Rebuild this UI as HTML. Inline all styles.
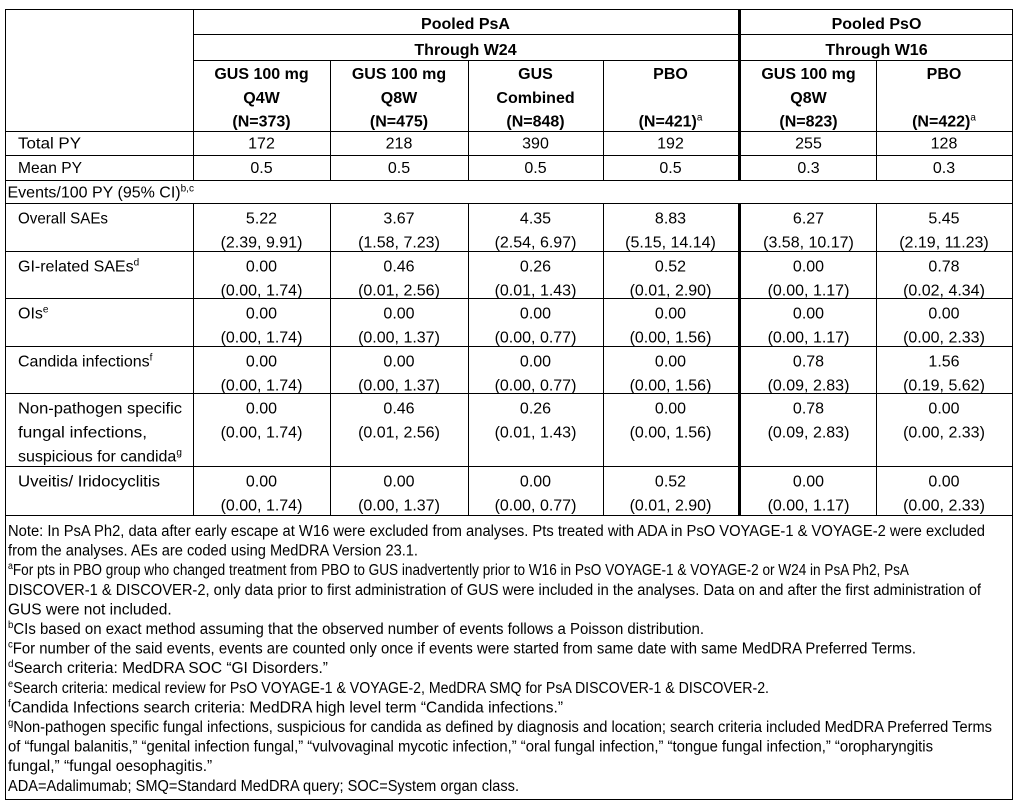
<!DOCTYPE html>
<html>
<head>
<meta charset="utf-8">
<style>
  html,body{margin:0;padding:0;background:#fff;}
  svg{display:block;}
  text{font-family:"Liberation Sans",Arial,sans-serif;fill:#000;}
  .h{font-weight:bold;font-size:16px;}
  .d{font-size:16px;}
  .f{font-size:15.5px;}
</style>
</head>
<body>
<svg width="1022" height="809" viewBox="0 0 1022 809" xmlns="http://www.w3.org/2000/svg">
  <rect x="0" y="0" width="1022" height="809" fill="#fff"/>
  <!-- horizontal lines -->
  <g fill="#000">
    <rect x="5" y="9" width="1008" height="1"/>
    <rect x="193" y="34" width="820" height="1"/>
    <rect x="193" y="60" width="820" height="1"/>
    <rect x="5" y="131" width="1008" height="1"/>
    <rect x="5" y="155" width="1008" height="1"/>
    <rect x="5" y="180" width="1008" height="1"/>
    <rect x="5" y="203" width="1008" height="1"/>
    <rect x="5" y="251" width="1008" height="1"/>
    <rect x="5" y="298" width="1008" height="1"/>
    <rect x="5" y="346" width="1008" height="1"/>
    <rect x="5" y="393" width="1008" height="1"/>
    <rect x="5" y="466" width="1008" height="1"/>
    <rect x="5" y="515" width="1008" height="1"/>
    <rect x="5" y="799" width="1008" height="1"/>
    <!-- vertical lines -->
    <rect x="5" y="9" width="1" height="791"/>
    <rect x="1012" y="9" width="1" height="791"/>
    <rect x="193" y="9" width="1" height="172"/>
    <rect x="193" y="203" width="1" height="313"/>
    <rect x="738" y="9" width="3" height="172"/>
    <rect x="738" y="203" width="3" height="313"/>
    <rect x="330" y="60" width="1" height="121"/>
    <rect x="330" y="203" width="1" height="313"/>
    <rect x="468" y="60" width="1" height="121"/>
    <rect x="468" y="203" width="1" height="313"/>
    <rect x="603" y="60" width="1" height="121"/>
    <rect x="603" y="203" width="1" height="313"/>
    <rect x="876" y="60" width="1" height="121"/>
    <rect x="876" y="203" width="1" height="313"/>
  </g>

  <!-- header -->
  <g class="h" text-anchor="middle">
    <text x="465.5" y="29">Pooled PsA</text>
    <text x="876.5" y="29">Pooled PsO</text>
    <text x="465.5" y="55">Through W24</text>
    <text x="876.5" y="55">Through W16</text>

    <text x="261.5" y="79">GUS 100 mg</text>
    <text x="261.5" y="103">Q4W</text>
    <text x="261.5" y="126.5">(N=373)</text>

    <text x="399" y="79">GUS 100 mg</text>
    <text x="399" y="103">Q8W</text>
    <text x="399" y="126.5">(N=475)</text>

    <text x="535.5" y="79">GUS</text>
    <text x="535.5" y="103">Combined</text>
    <text x="535.5" y="126.5">(N=848)</text>

    <text x="670.5" y="79">PBO</text>
    <text x="670.5" y="126.5">(N=421)<tspan font-size="10" font-weight="normal" dy="-6">a</tspan></text>

    <text x="808.5" y="79">GUS 100 mg</text>
    <text x="808.5" y="103">Q8W</text>
    <text x="808.5" y="126.5">(N=823)</text>

    <text x="944" y="79">PBO</text>
    <text x="944" y="126.5">(N=422)<tspan font-size="10" font-weight="normal" dy="-6">a</tspan></text>
  </g>

  <!-- left labels -->
  <g class="d">
    <text x="18" y="148.5" textLength="63" lengthAdjust="spacingAndGlyphs">Total PY</text>
    <text x="18" y="173" textLength="64" lengthAdjust="spacingAndGlyphs">Mean PY</text>
    <text x="7.5" y="197.5">Events/100 PY (95% CI)<tspan font-size="10" dy="-6">b,c</tspan></text>
    <text x="18" y="223.5" textLength="90" lengthAdjust="spacingAndGlyphs">Overall SAEs</text>
    <text x="18" y="271.5">GI-related SAEs<tspan font-size="10" dy="-6">d</tspan></text>
    <text x="18" y="318.5">OIs<tspan font-size="10" dy="-6">e</tspan></text>
    <text x="18" y="366.5">Candida infections<tspan font-size="10" dy="-6">f</tspan></text>
    <text x="18" y="413.5" textLength="164" lengthAdjust="spacingAndGlyphs">Non-pathogen specific</text>
    <text x="18" y="437.5" textLength="129" lengthAdjust="spacingAndGlyphs">fungal infections,</text>
    <text x="18" y="461.5">suspicious for candida<tspan font-size="10" dy="-6">g</tspan></text>
    <text x="18" y="486.5" textLength="142" lengthAdjust="spacingAndGlyphs">Uveitis/ Iridocyclitis</text>
  </g>

  <!-- data -->
  <g class="d" text-anchor="middle">
    <!-- Total PY -->
    <text x="261.5" y="148.5">172</text>
    <text x="399" y="148.5">218</text>
    <text x="535.5" y="148.5">390</text>
    <text x="670.5" y="148.5">192</text>
    <text x="808.5" y="148.5">255</text>
    <text x="944" y="148.5">128</text>
    <!-- Mean PY -->
    <text x="261.5" y="173">0.5</text>
    <text x="399" y="173">0.5</text>
    <text x="535.5" y="173">0.5</text>
    <text x="670.5" y="173">0.5</text>
    <text x="808.5" y="173">0.3</text>
    <text x="944" y="173">0.3</text>

    <!-- Overall SAEs -->
    <text x="261.5" y="223.5">5.22</text><text x="261.5" y="247.5">(2.39, 9.91)</text>
    <text x="399" y="223.5">3.67</text><text x="399" y="247.5">(1.58, 7.23)</text>
    <text x="535.5" y="223.5">4.35</text><text x="535.5" y="247.5">(2.54, 6.97)</text>
    <text x="670.5" y="223.5">8.83</text><text x="670.5" y="247.5">(5.15, 14.14)</text>
    <text x="808.5" y="223.5">6.27</text><text x="808.5" y="247.5">(3.58, 10.17)</text>
    <text x="944" y="223.5">5.45</text><text x="944" y="247.5">(2.19, 11.23)</text>

    <!-- GI -->
    <text x="261.5" y="271.5">0.00</text><text x="261.5" y="295.5">(0.00, 1.74)</text>
    <text x="399" y="271.5">0.46</text><text x="399" y="295.5">(0.01, 2.56)</text>
    <text x="535.5" y="271.5">0.26</text><text x="535.5" y="295.5">(0.01, 1.43)</text>
    <text x="670.5" y="271.5">0.52</text><text x="670.5" y="295.5">(0.01, 2.90)</text>
    <text x="808.5" y="271.5">0.00</text><text x="808.5" y="295.5">(0.00, 1.17)</text>
    <text x="944" y="271.5">0.78</text><text x="944" y="295.5">(0.02, 4.34)</text>

    <!-- OIs -->
    <text x="261.5" y="318.5">0.00</text><text x="261.5" y="342.5">(0.00, 1.74)</text>
    <text x="399" y="318.5">0.00</text><text x="399" y="342.5">(0.00, 1.37)</text>
    <text x="535.5" y="318.5">0.00</text><text x="535.5" y="342.5">(0.00, 0.77)</text>
    <text x="670.5" y="318.5">0.00</text><text x="670.5" y="342.5">(0.00, 1.56)</text>
    <text x="808.5" y="318.5">0.00</text><text x="808.5" y="342.5">(0.00, 1.17)</text>
    <text x="944" y="318.5">0.00</text><text x="944" y="342.5">(0.00, 2.33)</text>

    <!-- Candida -->
    <text x="261.5" y="366.5">0.00</text><text x="261.5" y="390.5">(0.00, 1.74)</text>
    <text x="399" y="366.5">0.00</text><text x="399" y="390.5">(0.00, 1.37)</text>
    <text x="535.5" y="366.5">0.00</text><text x="535.5" y="390.5">(0.00, 0.77)</text>
    <text x="670.5" y="366.5">0.00</text><text x="670.5" y="390.5">(0.00, 1.56)</text>
    <text x="808.5" y="366.5">0.78</text><text x="808.5" y="390.5">(0.09, 2.83)</text>
    <text x="944" y="366.5">1.56</text><text x="944" y="390.5">(0.19, 5.62)</text>

    <!-- Non-pathogen -->
    <text x="261.5" y="413.5">0.00</text><text x="261.5" y="437.5">(0.00, 1.74)</text>
    <text x="399" y="413.5">0.46</text><text x="399" y="437.5">(0.01, 2.56)</text>
    <text x="535.5" y="413.5">0.26</text><text x="535.5" y="437.5">(0.01, 1.43)</text>
    <text x="670.5" y="413.5">0.00</text><text x="670.5" y="437.5">(0.00, 1.56)</text>
    <text x="808.5" y="413.5">0.78</text><text x="808.5" y="437.5">(0.09, 2.83)</text>
    <text x="944" y="413.5">0.00</text><text x="944" y="437.5">(0.00, 2.33)</text>

    <!-- Uveitis -->
    <text x="261.5" y="486.5">0.00</text><text x="261.5" y="510.5">(0.00, 1.74)</text>
    <text x="399" y="486.5">0.00</text><text x="399" y="510.5">(0.00, 1.37)</text>
    <text x="535.5" y="486.5">0.00</text><text x="535.5" y="510.5">(0.00, 0.77)</text>
    <text x="670.5" y="486.5">0.52</text><text x="670.5" y="510.5">(0.01, 2.90)</text>
    <text x="808.5" y="486.5">0.00</text><text x="808.5" y="510.5">(0.00, 1.17)</text>
    <text x="944" y="486.5">0.00</text><text x="944" y="510.5">(0.00, 2.33)</text>
  </g>

  <!-- footnotes -->
  <g class="f">
    <text x="8" y="536" textLength="977" lengthAdjust="spacingAndGlyphs">Note: In PsA Ph2, data after early escape at W16 were excluded from analyses. Pts treated with ADA in PsO VOYAGE-1 &amp; VOYAGE-2 were excluded</text>
    <text x="8" y="555.6" textLength="410" lengthAdjust="spacingAndGlyphs">from the analyses. AEs are coded using MedDRA Version 23.1.</text>
    <text x="8" y="575.2" textLength="901" lengthAdjust="spacingAndGlyphs"><tspan font-size="10" dy="-6">a</tspan><tspan dy="6">For pts in PBO group who changed treatment from PBO to GUS inadvertently prior to W16 in PsO VOYAGE-1 &amp; VOYAGE-2 or W24 in PsA Ph2, PsA</tspan></text>
    <text x="8" y="594.8" textLength="973" lengthAdjust="spacingAndGlyphs">DISCOVER-1 &amp; DISCOVER-2, only data prior to first administration of GUS were included in the analyses. Data on and after the first administration of</text>
    <text x="8" y="614.4">GUS were not included.</text>
    <text x="8" y="634" textLength="696" lengthAdjust="spacingAndGlyphs"><tspan font-size="10" dy="-6">b</tspan><tspan dy="6">CIs based on exact method assuming that the observed number of events follows a Poisson distribution.</tspan></text>
    <text x="8" y="653.6" textLength="908" lengthAdjust="spacingAndGlyphs"><tspan font-size="10" dy="-6">c</tspan><tspan dy="6">For number of the said events, events are counted only once if events were started from same date with same MedDRA Preferred Terms.</tspan></text>
    <text x="8" y="673.2"><tspan font-size="10" dy="-6">d</tspan><tspan dy="6">Search criteria: MedDRA SOC “GI Disorders.”</tspan></text>
    <text x="8" y="692.8" textLength="761" lengthAdjust="spacingAndGlyphs"><tspan font-size="10" dy="-6">e</tspan><tspan dy="6">Search criteria: medical review for PsO VOYAGE-1 &amp; VOYAGE-2, MedDRA SMQ for PsA DISCOVER-1 &amp; DISCOVER-2.</tspan></text>
    <text x="8" y="712.4"><tspan font-size="10" dy="-6">f</tspan><tspan dy="6">Candida Infections search criteria: MedDRA high level term “Candida infections.”</tspan></text>
    <text x="8" y="732" textLength="984" lengthAdjust="spacingAndGlyphs"><tspan font-size="10" dy="-6">g</tspan><tspan dy="6">Non-pathogen specific fungal infections, suspicious for candida as defined by diagnosis and location; search criteria included MedDRA Preferred Terms</tspan></text>
    <text x="8" y="751.6" textLength="925" lengthAdjust="spacingAndGlyphs">of “fungal balanitis,” “genital infection fungal,” “vulvovaginal mycotic infection,” “oral fungal infection,” “tongue fungal infection,” “oropharyngitis</text>
    <text x="8" y="771.2">fungal,” “fungal oesophagitis.”</text>
    <text x="8" y="790.8" textLength="511" lengthAdjust="spacingAndGlyphs">ADA=Adalimumab; SMQ=Standard MedDRA query; SOC=System organ class.</text>
  </g>
</svg>
</body>
</html>
